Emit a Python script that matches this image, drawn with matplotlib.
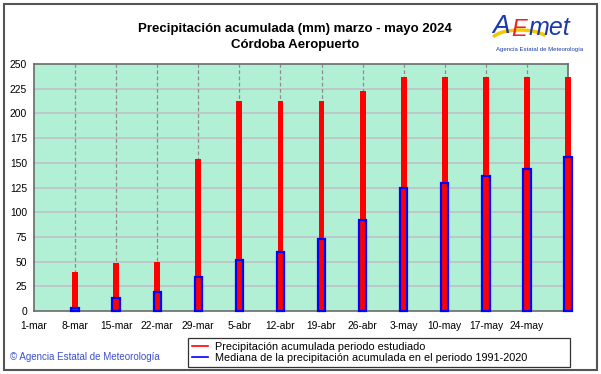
import matplotlib
matplotlib.use("Agg")
import matplotlib.pyplot as plt
from matplotlib.lines import Line2D
from matplotlib.patches import Rectangle, Arc
import pandas as pd

# Accumulated precipitation, Córdoba Aeropuerto, March-May 2024 (mm)
bar_dates = ["2024-03-08", "2024-03-15", "2024-03-22", "2024-03-29", "2024-04-05",
             "2024-04-12", "2024-04-19", "2024-04-26", "2024-05-03", "2024-05-10",
             "2024-05-17", "2024-05-24", "2024-05-31"]
observed = [39, 49, 50, 154, 213, 213, 213, 223, 237, 237, 237, 237, 237]
median_1991_2020 = [3, 13, 19, 34, 52, 60, 73, 92, 124, 130, 137, 144, 156]

tick_labels = ["1-mar", "8-mar", "15-mar", "22-mar", "29-mar", "5-abr", "12-abr",
               "19-abr", "26-abr", "3-may", "10-may", "17-may", "24-may"]
y_ticks = [0, 25, 50, 75, 100, 125, 150, 175, 200, 225, 250]

start = pd.Timestamp("2024-03-01")
end = pd.Timestamp("2024-05-31")
x = [(pd.Timestamp(d) - start).days for d in bar_dates]
tick_pos = [7 * i for i in range(len(tick_labels))]

plt.rcParams["font.family"] = ["Liberation Sans", "DejaVu Sans"]

fig = plt.figure(figsize=(6.01, 3.74), dpi=100)
W, H = 601, 374
ax = fig.add_axes([34 / W, (H - 311) / H, 534 / W, 247 / H])
ax.set_facecolor("#b2f0d6")

ax.set_xlim(0, (end - start).days)
ax.set_ylim(0, 250)

# grid: solid grey-lavender horizontals, dashed grey verticals
for yv in y_ticks[1:-1]:
    ax.axhline(yv, color="#c0bcc6", lw=1.1, zorder=1)
for xv in tick_pos[1:]:
    ax.axvline(xv, color="#8c8c8c", lw=0.9, ls=(0, (3, 2)), zorder=1)

red = ax.bar(x, observed, width=1.0, color="#ff0000", lw=0, zorder=3)
blue = ax.bar(x, median_1991_2020, width=1.25, facecolor="none", edgecolor="#0000ff",
              lw=1.6, zorder=4)
for p in list(red) + list(blue):
    p.set_clip_on(False)

ax.set_xticks(tick_pos)
ax.set_xticklabels(tick_labels, fontsize=7.4)
ax.set_yticks(y_ticks)
ax.set_yticklabels([str(v) for v in y_ticks], fontsize=7.4)
ax.tick_params(length=0, pad=5)
ax.tick_params(axis="x", pad=7)
for s in ax.spines.values():
    s.set_color("#6a6a6a")
    s.set_linewidth(1.2)

fig.text(295 / W, 1 - 29 / H, "Precipitación acumulada (mm) marzo - mayo 2024",
         ha="center", va="center", fontsize=9.5, fontweight="bold")
fig.text(295 / W, 1 - 45 / H, "Córdoba Aeropuerto",
         ha="center", va="center", fontsize=9.5, fontweight="bold")

# logo (approximation)
fig.patches.append(Arc((520 / W, 1 - 40 / H), 56 / W, 20 / H, theta1=15, theta2=170,
                       color="#f5c800", lw=2.5, transform=fig.transFigure))
fig.text(492 / W, 1 - 26 / H, "A", color="#1a3aa8", fontsize=19, style="italic",
         ha="left", va="center")
fig.text(511 / W, 1 - 29 / H, "E", color="#e8232a", fontsize=17, style="italic",
         ha="left", va="center")
fig.text(529 / W, 1 - 28 / H, "met", color="#1a3aa8", fontsize=18, style="italic",
         ha="left", va="center")
fig.text(540 / W, 1 - 50 / H, "Agencia Estatal de Meteorología", color="#1a3aa8",
         fontsize=4.3, ha="center", va="center")

fig.text(10 / W, 1 - 357 / H, "© Agencia Estatal de Meteorología", color="#3c50c8",
         fontsize=7, ha="left", va="center")

handles = [Line2D([], [], color="#ff0000", lw=1.2),
           Line2D([], [], color="#0000ff", lw=1.2)]
leg = fig.legend(handles, ["Precipitación acumulada periodo estudiado",
                           "Mediana de la precipitación acumulada en el periodo 1991-2020"],
                 loc="lower left",
                 bbox_to_anchor=(188 / W, 1 - 367 / H, 382 / W, 33 / H),
                 mode="expand", fontsize=7.8, frameon=True, fancybox=False,
                 handlelength=1.5, borderpad=0.35, labelspacing=0.1,
                 handletextpad=0.6, borderaxespad=0)
leg.get_frame().set_edgecolor("#000000")
leg.get_frame().set_linewidth(0.9)

fig.patches.append(Rectangle((4 / W, 4 / H), 593 / W, 366 / H, fill=False,
                             edgecolor="#555555", lw=1.5, transform=fig.transFigure))

fig.savefig("out.png", dpi=100, facecolor="white")
